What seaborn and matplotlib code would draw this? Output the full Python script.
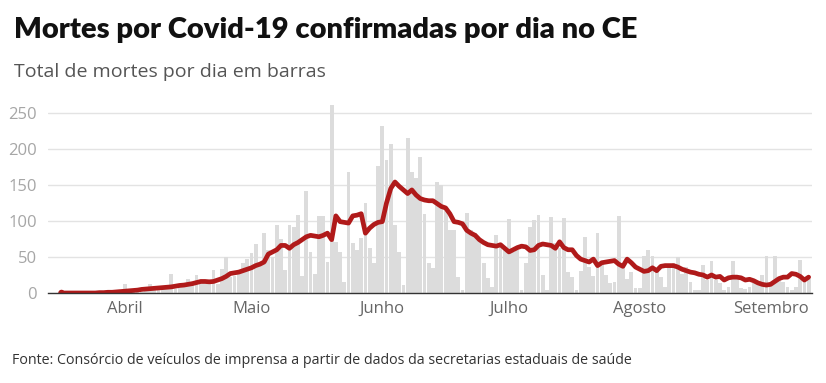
import numpy as np
import pandas as pd
import matplotlib
matplotlib.use('Agg')
import matplotlib.pyplot as plt
import seaborn as sns

### mortes diarias por Covid-19 no CE, barras + media movel

start = pd.Timestamp('2020-03-17')

# mortes confirmadas por dia (17/mar a 10/set)
deaths = [1, 0, 0, 0, 0,
          0, 1, 0, 1, 0, 2, 1, 3, 2, 4,
          12, 3, 4, 5, 2, 6, 12, 4, 8, 6,
          10, 27, 6, 9, 12, 19, 14, 25, 15, 18,
          14, 32, 12, 33, 50, 22, 24, 30, 41, 47,
          56, 68, 41, 83, 60, 50, 94, 75, 32, 94,
          91, 108, 24, 142, 57, 26, 107, 107, 43, 261,
          71, 57, 15, 168, 69, 60, 76, 125, 62, 42,
          176, 232, 185, 207, 94, 57, 11, 215, 168, 160,
          188, 110, 42, 35, 154, 150, 120, 87, 87, 22,
          4, 111, 87, 83, 74, 42, 21, 8, 81, 67,
          60, 103, 57, 60, 4, 42, 92, 101, 108, 25,
          4, 106, 69, 63, 104, 29, 22, 4, 30, 78,
          36, 23, 83, 42, 25, 14, 15, 107, 36, 19,
          29, 7, 7, 51, 60, 51, 32, 22, 8, 36,
          42, 50, 27, 36, 15, 4, 4, 39, 18, 45,
          18, 14, 4, 8, 45, 19, 7, 5, 8, 14,
          15, 25, 51, 15, 51, 22, 15, 8, 4, 8,
          46, 15, 20]

avg = [0, np.nan, np.nan, np.nan, np.nan,
       0, 0, 0, 0, 0.5, 0.5, 1, 1, 1.5, 2,
       2.5, 3, 3.5, 4, 5, 5.5, 6, 6.5, 7, 7.5,
       8, 8.5, 9.5, 10.5, 11, 12, 13, 14.5, 16, 16,
       15.5, 16, 18, 20, 23, 27, 28, 29, 31, 33,
       35, 38, 40, 43, 54, 57, 60, 66, 66, 62,
       67, 70, 74, 78, 80, 79, 78, 80, 83, 74,
       107, 99, 98, 97, 107, 108, 110, 83, 90, 95,
       98, 99, 125, 145, 154, 148, 143, 138, 143, 136,
       131, 129, 128, 128, 124, 120, 118, 110, 99, 98,
       96, 87, 83, 80, 74, 70, 67, 66, 65, 67,
       62, 57, 60, 63, 65, 64, 59, 60, 66, 68,
       67, 66, 62, 71, 63, 60, 60, 52, 47, 45,
       43, 47, 38, 42, 43, 44, 45, 40, 37, 47,
       42, 36, 33, 30, 31, 35, 31, 37, 38, 38,
       38, 36, 33, 31, 29, 28, 26, 25, 22, 25,
       22, 23, 18, 21, 22, 22, 21, 18, 19, 17,
       14, 12, 11, 12, 16, 20, 22, 22, 27, 26,
       23, 18, 22]

months = ['Abril', 'Maio', 'Junho', 'Julho', 'Agosto', 'Setembro']
month_starts = ['2020-04-01', '2020-05-01', '2020-06-01',
                '2020-07-01', '2020-08-01', '2020-09-01']

dates = pd.date_range(start, periods=len(deaths), freq='D')
apr1 = pd.Timestamp('2020-04-01')
df = pd.DataFrame({'dia': (dates - apr1).days,
                   'mortes': deaths,
                   'media': avg})

sns.set_style('white')
plt.rcParams['font.family'] = ['Open Sans', 'DejaVu Sans']

fig = plt.figure(figsize=(8.26, 3.83), dpi=100)
ax = fig.add_axes([48/826, 1-293/383, (812-48)/826, (293-102)/383])

sns.barplot(data=df, x='dia', y='mortes', native_scale=True, width=0.9,
            color='#dcdcdc', saturation=1, edgecolor='none', ax=ax, zorder=2)
sns.lineplot(data=df, x='dia', y='media', color='#b01a1a', linewidth=3.4,
             ax=ax, zorder=3, solid_capstyle='round', solid_joinstyle='round')

# pontos isolados da media (sem vizinhos)
m = df['media']
lone = m.notna() & m.shift(1).isna() & m.shift(-1).isna()
sns.scatterplot(data=df[lone], x='dia', y='media', color='#b01a1a',
                s=22, edgecolor='none', ax=ax, zorder=4)

ax.set_ylim(0, 265)
ax.set_xlim(-18.2, 162.8)
ax.set_yticks([0, 50, 100, 150, 200, 250])
ax.yaxis.grid(True, color='#e3e3e3', linewidth=1)
ax.set_axisbelow(True)
ticks = [(pd.Timestamp(s) - apr1).days for s in month_starts]
ax.set_xticks(ticks)
ax.set_xticklabels(months)
ax.tick_params(axis='x', length=0, pad=6, labelsize=12, labelcolor='#666666')
ax.tick_params(axis='y', length=0, pad=8, labelsize=12, labelcolor='#a6a6a6')
ax.set_xlabel('')
ax.set_ylabel('')
for side in ['top', 'right', 'left']:
    ax.spines[side].set_visible(False)
ax.spines['bottom'].set_color('#333333')
ax.spines['bottom'].set_linewidth(1)
ax.spines['bottom'].set_zorder(5)

fig.text(14/826, 1-38/383, 'Mortes por Covid-19 confirmadas por dia no CE',
         family=['Lato', 'Open Sans', 'DejaVu Sans'],
         fontweight='heavy', fontsize=21, color='#111111', va='baseline')
fig.text(14/826, 1-77/383, 'Total de mortes por dia em barras',
         fontsize=14, color='#555555', va='baseline')
fig.text(12/826, 1-364/383,
         'Fonte: Consórcio de veículos de imprensa a partir de dados da secretarias estaduais de saúde',
         fontsize=10.3, color='#333333', va='baseline')

fig.savefig('out.png', dpi=100)
